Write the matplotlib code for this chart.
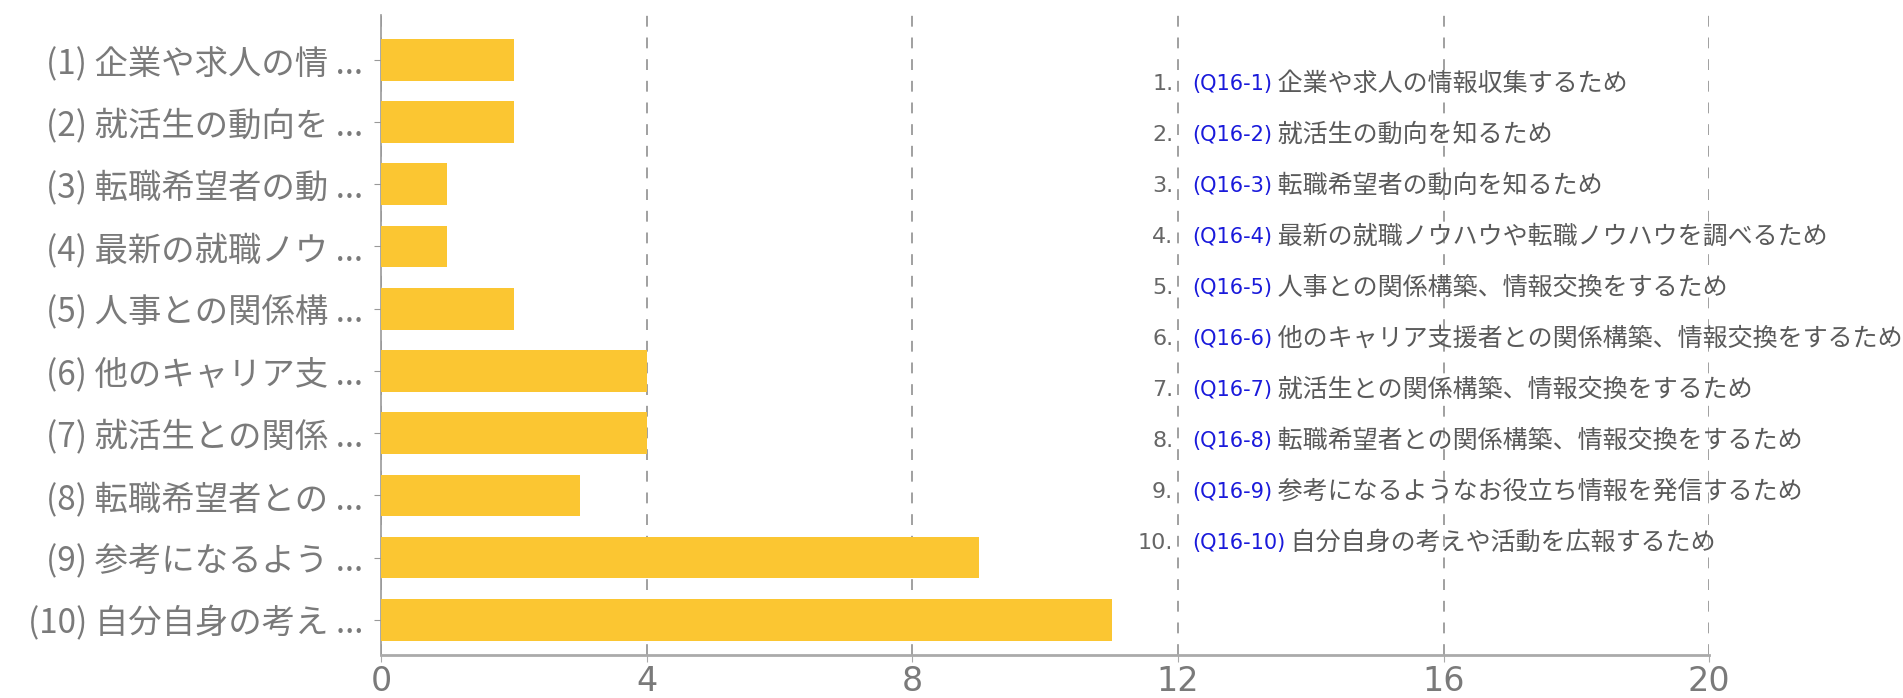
import numpy as np
import matplotlib
matplotlib.use("Agg")
import matplotlib.pyplot as plt

plt.rcParams["font.family"] = ["Noto Sans CJK JP", "DejaVu Sans"]

# reasons (short labels on the axis, full wording in the list on the right)
short_labels = [
    "(1) 企業や求人の情 ...",
    "(2) 就活生の動向を ...",
    "(3) 転職希望者の動 ...",
    "(4) 最新の就職ノウ ...",
    "(5) 人事との関係構 ...",
    "(6) 他のキャリア支 ...",
    "(7) 就活生との関係 ...",
    "(8) 転職希望者との ...",
    "(9) 参考になるよう ...",
    "(10) 自分自身の考え ...",
]
codes = [f"(Q16-{i})" for i in range(1, 11)]
full_labels = [
    "企業や求人の情報収集するため",
    "就活生の動向を知るため",
    "転職希望者の動向を知るため",
    "最新の就職ノウハウや転職ノウハウを調べるため",
    "人事との関係構築、情報交換をするため",
    "他のキャリア支援者との関係構築、情報交換をするため",
    "就活生との関係構築、情報交換をするため",
    "転職希望者との関係構築、情報交換をするため",
    "参考になるようなお役立ち情報を発信するため",
    "自分自身の考えや活動を広報するため",
]
counts = [2, 2, 1, 1, 2, 4, 4, 3, 9, 11]
x_ticks = [0, 4, 8, 12, 16, 20]

BAR = "#FBC632"
GRAY = "#7a7a7a"

fig = plt.figure(figsize=(19.03, 6.98), dpi=100)
ax = fig.add_axes([0.2002, 0.0616, 0.698, 0.917])

y = np.arange(len(counts))
ax.barh(y, counts, height=0.67, color=BAR, zorder=3)

ax.set_xlim(0, 20)
ax.set_ylim(len(counts) - 1 + 0.565, -0.72)
ax.set_xticks(x_ticks)
ax.set_xticklabels([str(t) for t in x_ticks], fontsize=24, color=GRAY,
                   family=["Liberation Sans Narrow", "DejaVu Sans"])
ax.set_yticks(y)
ax.set_yticklabels(short_labels, fontsize=24, color=GRAY)

ax.xaxis.grid(True, linestyle=(0, (6, 6)), color="#999999", linewidth=1.3, zorder=0)
ax.set_axisbelow(True)

for s in ["top", "right"]:
    ax.spines[s].set_visible(False)
ax.spines["left"].set_color("#999999")
ax.spines["bottom"].set_color("#aaaaaa")
ax.spines["bottom"].set_linewidth(2)
ax.spines["left"].set_linewidth(1.2)
ax.tick_params(axis="y", length=5, color="#999999", pad=8)
ax.tick_params(axis="x", length=5, color="#aaaaaa", pad=2)

# numbered list of full answers
row0 = 1 - 84 / 698
step = 51 / 698
for i, (code, text) in enumerate(zip(codes, full_labels)):
    yy = row0 - i * step
    fig.text(0.6165, yy, f"{i + 1}.", ha="right", va="center",
             fontsize=16, color="#666666",
             family=["Liberation Sans Narrow", "DejaVu Sans"])
    t = fig.text(0.6265, yy, code, ha="left", va="center",
                 fontsize=15, color="#1a1adb",
                 family=["Liberation Sans Narrow", "DejaVu Sans"])
    ax.annotate(" " + text, xy=(1, 0.5), xycoords=t, ha="left", va="center",
                fontsize=18, color="#5a5a5a", annotation_clip=False)

fig.savefig("out.png", dpi=100)
